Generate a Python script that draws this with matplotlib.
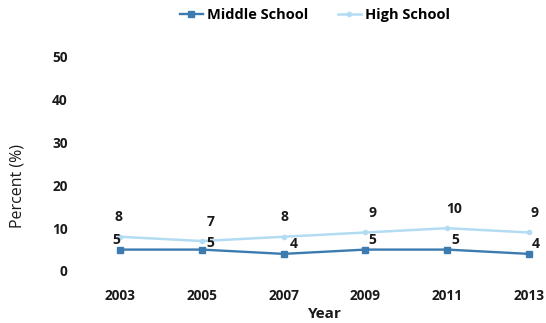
import numpy as np
import matplotlib.pyplot as plt

years = [2003, 2005, 2007, 2009, 2011, 2013]
middle_school = [5, 5, 4, 5, 5, 4]
high_school = [8, 7, 8, 9, 10, 9]
yticks = [0, 10, 20, 30, 40, 50]

ms_color = '#3c7bb0'
hs_color = '#b3dcf2'
txt = '#1a1a1a'

plt.rcParams['font.family'] = ['Open Sans', 'DejaVu Sans']
plt.rcParams['font.weight'] = 'bold'

fig = plt.figure(figsize=(5.46, 3.23), dpi=100)
ax = fig.add_axes([80/546, 1 - 271/323, 466/546, 214/323])

ax.plot(years, high_school, color=hs_color, lw=1.8, marker='o', ms=3,
        label='High School')
ax.plot(years, middle_school, color=ms_color, lw=1.7, marker='s', ms=5,
        label='Middle School')

# value labels (offsets in points)
hs_off = [(-1, 9), (6, 9), (1, 9), (5, 9), (5, 9), (4, 9)]
ms_off = [(-3, 2), (6, 0), (7, 2), (5, 2), (6, 2), (5, 2)]
for x, v, o in zip(years, high_school, hs_off):
    ax.annotate(str(v), (x, v), xytext=o, textcoords='offset points',
                ha='center', va='bottom', fontsize=10, color=txt, fontweight='bold')
for x, v, o in zip(years, middle_school, ms_off):
    ax.annotate(str(v), (x, v), xytext=o, textcoords='offset points',
                ha='center', va='bottom', fontsize=10, color=txt, fontweight='bold')

ax.set_xlim(2002.02, 2013.42)
ax.set_ylim(0, 50)
ax.set_xticks(years)
ax.set_yticks(yticks)
ax.tick_params(length=0, labelsize=9.8, labelcolor=txt)
ax.tick_params(axis='x', pad=13)
ax.tick_params(axis='y', pad=9)
for s in ax.spines.values():
    s.set_visible(False)

ax.set_xlabel('Year', fontsize=11, color=txt, fontweight='bold')
ax.xaxis.set_label_coords((325 - 80) / 466, -36 / 214)
ax.set_ylabel('Percent (%)', fontsize=11.5, color=txt, fontweight='normal')
ax.yaxis.set_label_coords(-54 / 466, (271 - 186) / 214)

h, l = ax.get_legend_handles_labels()
fig.legend(h[::-1], l[::-1], loc='center', bbox_to_anchor=(315/546, 1 - 15/323),
           ncol=2, frameon=False, fontsize=10.5, handlelength=1.6,
           columnspacing=2.0, handletextpad=0.3)

fig.savefig('out.png', dpi=100)
